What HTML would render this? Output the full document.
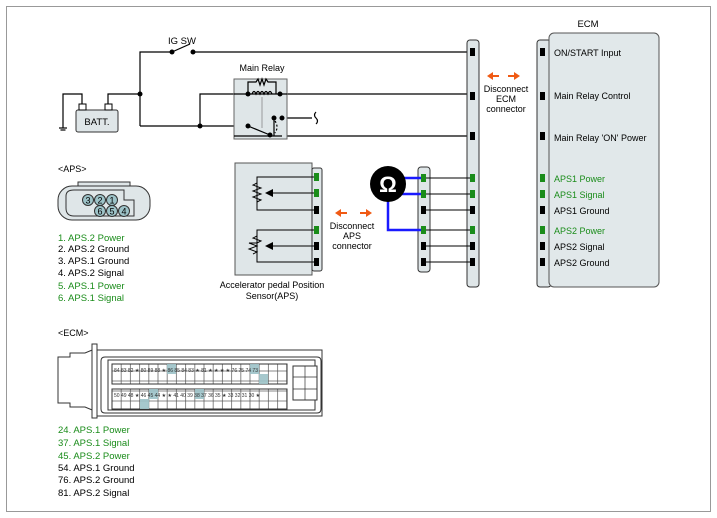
<!DOCTYPE html>
<html><head><meta charset="utf-8"><style>
html,body{margin:0;padding:0;background:#fff}
svg{display:block;font-family:"Liberation Sans",sans-serif}
</style></head><body>
<svg width="717" height="518" viewBox="0 0 717 518" xmlns="http://www.w3.org/2000/svg">
<defs>
<pattern id="cells" x="112" y="361" width="9.2" height="10" patternUnits="userSpaceOnUse">
<rect x="0" y="0" width="9.2" height="10" fill="#fff" stroke="#555" stroke-width="0.7"/>
</pattern>
</defs>
<rect x="6.5" y="6.5" width="704" height="505" fill="#fff" stroke="#999"/>
<g stroke="#000" stroke-width="1.2" fill="none">
<!-- IG SW -->
<polyline points="140,126 140,52 172,52"/>
<line x1="172" y1="52" x2="190" y2="44"/>
<line x1="193" y1="52" x2="467" y2="52"/>
<!-- battery -->
<polyline points="108,106 108,94 140,94"/>
<polyline points="82,106 82,94 63,94 63,128"/>
<line x1="59" y1="128" x2="67" y2="128"/><line x1="60.5" y1="130" x2="65.5" y2="130"/>
<!-- relay lines -->
<polyline points="467,94 200,94 200,126"/>
<line x1="140" y1="126" x2="248" y2="126"/>
<line x1="282" y1="136" x2="467" y2="136"/>
<polyline points="282,136 282,118 312,118"/>
<path d="M316,112 q-3,3 0,6 q3,3 0,6"/>
</g>
<rect x="234" y="79" width="53" height="60" fill="#dfe6e8" stroke="#666"/>
<g stroke="#000" stroke-width="1.2" fill="none">
<line x1="234" y1="94" x2="287" y2="94"/>
<polyline points="234,136 282,136"/>
<line x1="248" y1="126" x2="270" y2="135"/>
<path d="M248,94 v-12 h8 l2,-3 l2,6 l2,-6 l2,6 l2,-6 l2,3 h8 v12"/>
<path d="M252,94 q2,-5 4,0 q2,-5 4,0 q2,-5 4,0 q2,-5 4,0 q2,-5 4,0"/>
<line x1="262" y1="97" x2="262" y2="128" stroke="#888" stroke-width="0.8"/>
<polyline points="274,118 274,136"/>
<path d="M275,121 q4,6 0,12" stroke-dasharray="2,2"/>
</g>
<g fill="#000">
<circle cx="140" cy="94" r="2.5"/><circle cx="172" cy="52" r="2.5"/><circle cx="193" cy="52" r="2.5"/>
<circle cx="200" cy="126" r="2.5"/><circle cx="248" cy="94" r="2.5"/><circle cx="280" cy="94" r="2.5"/>
<circle cx="248" cy="126" r="2.5"/><circle cx="270" cy="135" r="2.5"/><circle cx="274" cy="118" r="2.5"/><circle cx="282" cy="118" r="2.5"/>
</g>
<rect x="76" y="110" width="42" height="22" rx="2" fill="#dfe6e8" stroke="#333"/>
<rect x="79" y="104" width="7" height="6" fill="#fff" stroke="#000"/>
<rect x="105" y="104" width="7" height="6" fill="#fff" stroke="#000"/>
<text x="97" y="125" font-size="9.5" text-anchor="middle">BATT.</text>
<text x="182" y="44" font-size="9.5" text-anchor="middle">IG SW</text>
<text x="262" y="71" font-size="9" text-anchor="middle">Main Relay</text>

<!-- ECM block -->
<rect x="537" y="40" width="14" height="247" rx="3" fill="#dfe6e8" stroke="#333"/>
<rect x="549" y="33" width="110" height="254" rx="5" fill="#e1e8ea" stroke="#555"/>
<text x="588" y="27" font-size="9.5" text-anchor="middle">ECM</text>
<rect x="467" y="40" width="12" height="247" rx="3" fill="#dfe6e8" stroke="#333"/>
<g font-size="9">
<text x="554" y="56">ON/START Input</text>
<text x="554" y="99">Main Relay Control</text>
<text x="554" y="141">Main Relay 'ON' Power</text>
<text x="554" y="182" fill="#1a8c1a">APS1 Power</text>
<text x="554" y="198" fill="#1a8c1a">APS1 Signal</text>
<text x="554" y="214">APS1 Ground</text>
<text x="554" y="234" fill="#1a8c1a">APS2 Power</text>
<text x="554" y="250">APS2 Signal</text>
<text x="554" y="266">APS2 Ground</text>
</g>
<g fill="#000">
<rect x="470" y="48" width="5" height="8"/><rect x="470" y="92" width="5" height="8"/><rect x="470" y="132" width="5" height="8"/>
<rect x="540" y="48" width="5" height="8"/><rect x="540" y="92" width="5" height="8"/><rect x="540" y="132" width="5" height="8"/>
<rect x="540" y="174" width="5" height="8" fill="#1a8c1a"/><rect x="540" y="190" width="5" height="8" fill="#1a8c1a"/><rect x="540" y="206" width="5" height="8"/>
<rect x="540" y="226" width="5" height="8" fill="#1a8c1a"/><rect x="540" y="242" width="5" height="8"/><rect x="540" y="258" width="5" height="8"/>
</g>
<g fill="#f05a14">
<polygon points="487,76 493,72 493,80"/><rect x="493" y="75" width="6" height="2"/>
<polygon points="520,76 514,72 514,80"/><rect x="508" y="75" width="6" height="2"/>
<polygon points="335,213 341,209 341,217"/><rect x="341" y="212" width="6" height="2"/>
<polygon points="372,213 366,209 366,217"/><rect x="360" y="212" width="6" height="2"/>
</g>
<g font-size="9" text-anchor="middle">
<text x="506" y="92">Disconnect</text><text x="506" y="102">ECM</text><text x="506" y="112">connector</text>
<text x="352" y="229">Disconnect</text><text x="352" y="239">APS</text><text x="352" y="249">connector</text>
<text x="272" y="288">Accelerator pedal Position</text><text x="272" y="299">Sensor(APS)</text>
</g>

<!-- APS sensor -->
<rect x="235" y="163" width="77" height="112" fill="#dfe6e8" stroke="#555"/>
<rect x="312" y="168" width="10" height="103" rx="2" fill="#dfe6e8" stroke="#333"/>
<g stroke="#000" stroke-width="1" fill="none">
<polyline points="316,177 257,177 257,210 316,210"/>
<polyline points="316,230 257,230 257,262 316,262"/>
<line x1="316" y1="193" x2="272" y2="193"/>
<line x1="316" y1="246" x2="272" y2="246"/>
<path d="M257,183 l-4,2 l8,3 l-8,3 l8,3 l-8,3 l8,3 l-4,2"/>
<path d="M257,236 l-4,2 l8,3 l-4,2 l-8,0 l8,3 l-8,3 l8,3 l-4,2"/>
</g>
<polygon points="265,193 273,189 273,197" fill="#000"/>
<polygon points="265,246 273,242 273,250" fill="#000"/>
<g>
<rect x="314" y="173" width="5" height="8" fill="#1a8c1a"/><rect x="314" y="189" width="5" height="8" fill="#1a8c1a"/><rect x="314" y="206" width="5" height="8"/>
<rect x="314" y="226" width="5" height="8" fill="#1a8c1a"/><rect x="314" y="242" width="5" height="8"/><rect x="314" y="258" width="5" height="8"/>
</g>

<!-- middle connector -->
<rect x="418" y="167" width="12" height="105" rx="3" fill="#dfe6e8" stroke="#333"/>
<g stroke="#000" stroke-width="1">
<line x1="424" y1="178" x2="472" y2="178"/><line x1="424" y1="194" x2="472" y2="194"/><line x1="424" y1="210" x2="472" y2="210"/>
<line x1="424" y1="230" x2="472" y2="230"/><line x1="424" y1="246" x2="472" y2="246"/><line x1="424" y1="262" x2="472" y2="262"/>
</g>
<g>
<rect x="421" y="174" width="5" height="8" fill="#1a8c1a"/><rect x="421" y="190" width="5" height="8" fill="#1a8c1a"/><rect x="421" y="206" width="5" height="8"/>
<rect x="421" y="226" width="5" height="8" fill="#1a8c1a"/><rect x="421" y="242" width="5" height="8"/><rect x="421" y="258" width="5" height="8"/>
<rect x="470" y="174" width="5" height="8" fill="#1a8c1a"/><rect x="470" y="190" width="5" height="8" fill="#1a8c1a"/><rect x="470" y="206" width="5" height="8"/>
<rect x="470" y="226" width="5" height="8" fill="#1a8c1a"/><rect x="470" y="242" width="5" height="8"/><rect x="470" y="258" width="5" height="8"/>
</g>
<g stroke="#1a1aff" stroke-width="2.5" fill="none">
<polyline points="400,178 421,178"/><polyline points="400,194 421,194"/>
<polyline points="388,200 388,230 421,230"/>
</g>
<circle cx="388" cy="184" r="18" fill="#000"/>
<text x="388" y="192" font-size="22" font-weight="bold" fill="#fff" text-anchor="middle">Ω</text>

<!-- APS connector -->
<text x="58" y="172" font-size="9">&lt;APS&gt;</text>
<path d="M78,186 h52 v-4 h-52 z" fill="#dfe6e8" stroke="#333"/>
<rect x="58" y="186" width="92" height="34" rx="14" fill="#dfe6e8" stroke="#333"/>
<path d="M66,196 q0,-6 8,-6 h50 v10 h10 v16 h-60 q-8,0 -8,-8 z" fill="none" stroke="#333"/>
<g fill="#9dc3c8" stroke="#333">
<circle cx="88" cy="200" r="5.5"/><circle cx="100" cy="200" r="5.5"/><circle cx="112" cy="200" r="5.5"/>
<circle cx="100" cy="211" r="5.5"/><circle cx="112" cy="211" r="5.5"/><circle cx="124" cy="211" r="5.5"/>
</g>
<g font-size="9" text-anchor="middle">
<text x="88" y="203.5">3</text><text x="100" y="203.5">2</text><text x="112" y="203.5">1</text>
<text x="100" y="214.5">6</text><text x="112" y="214.5">5</text><text x="124" y="214.5">4</text>
</g>
<g font-size="9.5">
<text x="58" y="241" fill="#1a8c1a">1. APS.2 Power</text>
<text x="58" y="252">2. APS.2 Ground</text>
<text x="58" y="264">3. APS.1 Ground</text>
<text x="58" y="276">4. APS.2 Signal</text>
<text x="58" y="289" fill="#1a8c1a">5. APS.1 Power</text>
<text x="58" y="301" fill="#1a8c1a">6. APS.1 Signal</text>
</g>

<!-- ECM connector -->
<text x="58" y="336" font-size="9">&lt;ECM&gt;</text>
<path d="M58,357 h12 v-4 h15 l12,-5 v64 l-12,-5 h-15 v-4 h-12 z" fill="#fff" stroke="#333"/>
<rect x="92" y="344" width="5" height="74" fill="#fff" stroke="#333"/>
<rect x="97" y="350" width="225" height="66" fill="#fff" stroke="#333"/>
<path d="M105,357 h212 q4,0 4,4 v48 q0,4 -4,4 h-212 q-4,0 -4,-4 v-48 q0,-4 4,-4 z" fill="none" stroke="#333"/>
<path d="M108,360 h207 v50 h-207 z" fill="none" stroke="#333"/>
<rect x="112" y="364" width="175" height="20" fill="url(#cells)" stroke="#333"/>
<rect x="112" y="389" width="175" height="20" fill="url(#cells)" stroke="#333"/>
<rect x="293" y="366" width="24" height="34" fill="#fff" stroke="#333"/>
<g stroke="#333" stroke-width="0.7"><line x1="305" y1="366" x2="305" y2="400"/><line x1="293" y1="377" x2="317" y2="377"/><line x1="293" y1="389" x2="317" y2="389"/></g>
<g fill="#9dc3c8" opacity="0.9">
<rect x="250" y="364" width="9" height="10"/><rect x="259" y="374" width="9" height="10"/><rect x="167" y="364" width="9" height="10"/>
<rect x="149" y="389" width="9" height="10"/><rect x="140" y="399" width="9" height="10"/><rect x="195" y="389" width="9" height="10"/>
</g>
<g font-size="5" fill="#333">
<text x="114" y="372">84 83 82 ★ 80 89 88 ★ 86 85 84 83 ★ 81 ★ ★ ★ ★ 76 75 74 73</text>
<text x="114" y="397">50 49 48 ★ 46 45 44 ★ ★ 41 40 39 38 37 36 35 ★ 33 32 31 30 ★</text>
</g>
<g font-size="9.5">
<text x="58" y="433" fill="#1a8c1a">24. APS.1 Power</text>
<text x="58" y="446" fill="#1a8c1a">37. APS.1 Signal</text>
<text x="58" y="459" fill="#1a8c1a">45. APS.2 Power</text>
<text x="58" y="471">54. APS.1 Ground</text>
<text x="58" y="483">76. APS.2 Ground</text>
<text x="58" y="496">81. APS.2 Signal</text>
</g>
</svg>
</body></html>
